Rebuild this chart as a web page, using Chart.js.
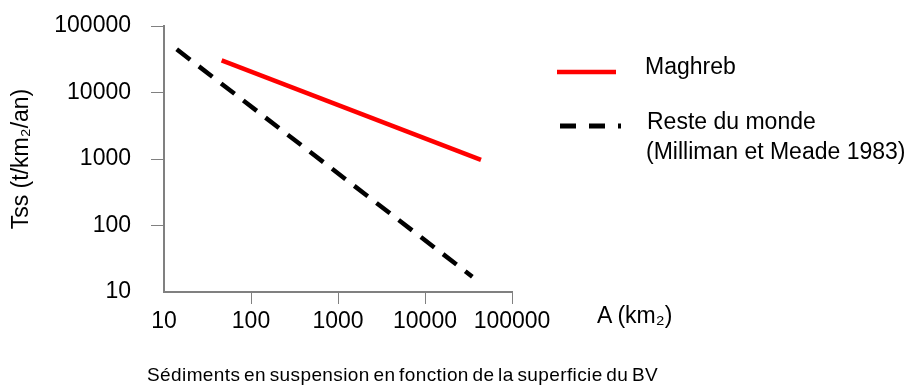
<!DOCTYPE html>
<html>
<head>
<meta charset="utf-8">
<script src="https://cdn.jsdelivr.net/npm/chart.js@4/dist/chart.umd.min.js"></script>
<style>
  html, body { margin: 0; padding: 0; background: #fff; }
  #wrap { position: relative; width: 923px; height: 385px; overflow: hidden; font-family: "Liberation Sans", Arial, sans-serif; color: #000; }
  #c { position: absolute; left: 0; top: 0; }
  .txt { position: absolute; white-space: nowrap; font-size: 23px; line-height: 26px; }
  #caption { position: absolute; white-space: nowrap; font-size: 19px; line-height: 22px; letter-spacing: 0.4px; word-spacing: -2px; left: 147px; top: 364px; }
  svg { position: absolute; left: 0; top: 0; }
</style>
</head>
<body>
<div id="wrap">
  <canvas id="c" width="923" height="385"></canvas>
  <svg width="923" height="385">
    <line x1="557" y1="72" x2="616" y2="72" stroke="#ff0000" stroke-width="4.5"/>
    <line x1="560" y1="126" x2="621" y2="126" stroke="#000" stroke-width="5" stroke-dasharray="16 13"/>
  </svg>
  <div class="txt" id="lg1" style="left:645px; top:53px;"></div>
  <div class="txt" id="lg2a" style="left:647px; top:108px;"></div>
  <div class="txt" id="lg2b" style="left:646px; top:138px;"></div>
  <div class="txt" id="xtitle" style="left:597px; top:302px;"></div>
  <div id="caption"></div>
</div>
<script>
// ---- data ----
const seriesNames = ['Maghreb', 'Reste du monde', '(Milliman et Meade 1983)'];
const maghrebA = [46, 44000];
const maghrebTss = [30500, 970];
const mondeA = [14, 35000];
const mondeTss = [44600, 17];
const xTickValues = [10, 100, 1000, 10000, 100000];
const xTickLabels = ['10', '100', '1000', '10000', '100000'];
const yTickValues = [10, 100, 1000, 10000, 100000];
const yTickLabels = ['10', '100', '1000', '10000', '100000'];
const xTitle = 'A (km\u2082)';
const yTitle = 'Tss (t/km\u2082/an)';
const caption = 'Sédiments en suspension en fonction de la superficie du BV';

document.getElementById('lg1').textContent = seriesNames[0];
document.getElementById('lg2a').textContent = seriesNames[1];
document.getElementById('lg2b').textContent = seriesNames[2];
document.getElementById('xtitle').textContent = xTitle;
document.getElementById('caption').textContent = caption;

const FONT = "'Liberation Sans', Arial, sans-serif";
const AXIS = '#808080';

function pts(xs, ys) { return xs.map((x, i) => ({ x: x, y: ys[i] })); }

new Chart(document.getElementById('c'), {
  type: 'scatter',
  data: {
    datasets: [
      {
        label: seriesNames[0],
        data: pts(maghrebA, maghrebTss),
        showLine: true,
        borderColor: '#ff0000',
        borderWidth: 4.5,
        pointRadius: 0,
        borderCapStyle: 'butt'
      },
      {
        label: seriesNames[1],
        data: pts(mondeA, mondeTss),
        showLine: true,
        borderColor: '#000000',
        borderWidth: 4.5,
        borderDash: [17, 11],
        pointRadius: 0,
        borderCapStyle: 'butt'
      }
    ]
  },
  options: {
    responsive: false,
    animation: false,
    events: [],
    layout: { padding: { left: 0, right: 411, top: 26, bottom: 53 } },
    plugins: { legend: { display: false }, tooltip: { enabled: false } },
    scales: {
      x: {
        type: 'logarithmic',
        min: 10,
        max: 100000,
        afterBuildTicks: (s) => { s.ticks = xTickValues.map(v => ({ value: v, major: true })); },
        afterFit: (s) => { s.height = 40; s.paddingLeft = 0; s.paddingRight = 0; },
        border: { display: true, color: AXIS, width: 2 },
        grid: {
          display: true, drawOnChartArea: false, drawTicks: true, tickLength: 12, lineWidth: 1,
          color: (ctx) => ctx.index === 0 ? 'rgba(0,0,0,0)' : AXIS
        },
        ticks: {
          color: '#000', font: { family: FONT, size: 23 }, padding: 4,
          maxRotation: 0, autoSkip: false,
          callback: (v, i) => xTickLabels[i]
        }
      },
      y: {
        type: 'logarithmic',
        min: 10,
        max: 100000,
        afterBuildTicks: (s) => { s.ticks = yTickValues.map(v => ({ value: v, major: true })); },
        afterFit: (s) => { s.width = 164; s.paddingTop = 0; s.paddingBottom = 0; },
        border: { display: true, color: AXIS, width: 2 },
        grid: {
          display: true, drawOnChartArea: false, drawTicks: true, tickLength: 13, lineWidth: 1,
          color: (ctx) => ctx.index === 0 ? 'rgba(0,0,0,0)' : AXIS
        },
        title: {
          display: true, text: yTitle, color: '#000',
          font: { family: FONT, size: 23 }, padding: { top: 8, bottom: 0 }
        },
        ticks: {
          color: '#000', font: { family: FONT, size: 23 }, padding: 20, autoSkip: false,
          callback: (v, i) => yTickLabels[i]
        }
      }
    }
  }
});
</script>
</body>
</html>
